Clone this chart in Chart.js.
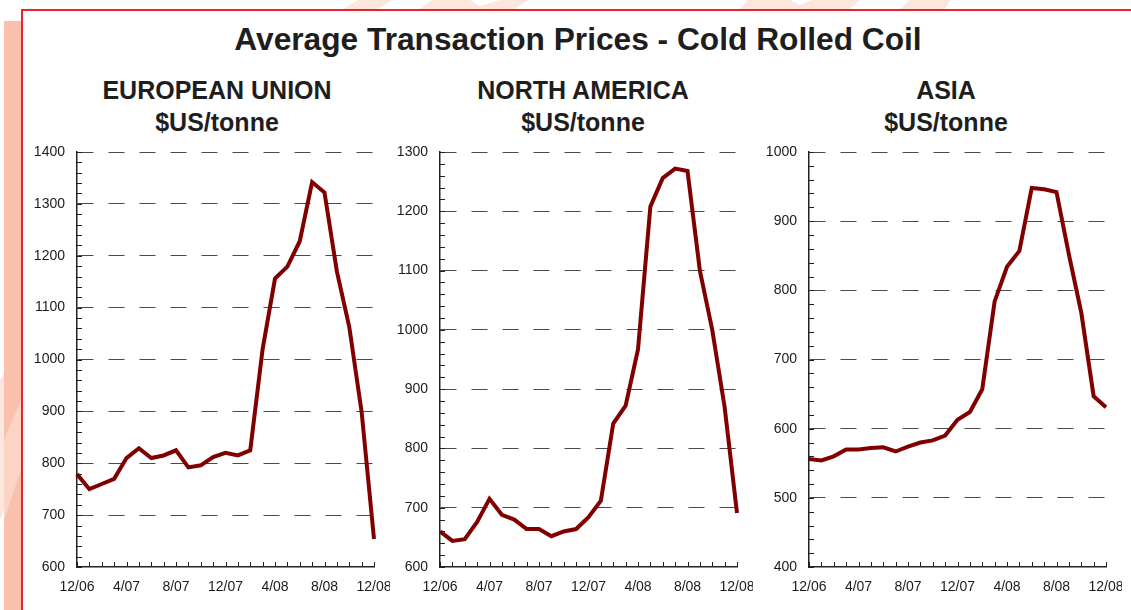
<!DOCTYPE html>
<html>
<head>
<meta charset="utf-8">
<script src="https://cdn.jsdelivr.net/npm/chart.js@4.4.1/dist/chart.umd.min.js"></script>
<style>
  html, body { margin: 0; padding: 0; background: #ffffff; }
  body { width: 1131px; height: 610px; position: relative; overflow: hidden; font-family: "Liberation Sans", Arial, sans-serif; }
  .stripe { position: absolute; left: 4px; top: 21px; width: 17px; height: 600px; background: #F9C1AC; }
  .frame { position: absolute; left: 21px; top: 9px; width: 1200px; height: 700px; border: 2px solid #EE2030; box-sizing: border-box; }
  .wm { position: absolute; left: 0; top: 0; }
  .title { position: absolute; left: 0; width: 1156px; top: 24px; text-align: center; font-weight: bold; font-size: 31.7px; line-height: 31px; color: #1e1e1e; white-space: nowrap; }
  .sub { position: absolute; top: 74px; width: 400px; text-align: center; font-weight: bold; font-size: 25px; line-height: 32px; color: #1e1e1e; white-space: nowrap; }
  canvas { position: absolute; top: 130px; }
</style>
</head>
<body>
<svg class="wm" width="1131" height="610">
  <polygon points="343,9 358,0 392,0 377,9" fill="#FDE6DC"/>
  <polygon points="420,9 432,0 470,0 480,6 500,0 528,0 515,9" fill="#FDE6DC"/>
  <polygon points="740,9 748,0 790,0 800,5 812,0 860,0 850,9" fill="#FDE6DC"/>
  <polygon points="900,9 910,0 950,0 945,9" fill="#FDE6DC"/>
  <polygon points="0,380 21,345 21,470 0,520" fill="#FCE6DE"/>
</svg>
<div class="stripe"></div>
<svg class="wm" width="1131" height="610">
  <polygon points="4,440 21,400 21,470 4,520" fill="#FCDCD0" opacity="0.7"/>
</svg>
<div class="frame"></div>
<div class="title">Average Transaction Prices - Cold Rolled Coil</div>
<div class="sub" style="left:17px">EUROPEAN UNION<br>$US/tonne</div>
<div class="sub" style="left:383px">NORTH AMERICA<br>$US/tonne</div>
<div class="sub" style="left:746px">ASIA<br>$US/tonne</div>

<canvas id="euChart" width="390" height="480" style="left:0px"></canvas>
<canvas id="naChart" width="390" height="480" style="left:363px"></canvas>
<canvas id="asiaChart" width="390" height="480" style="left:732px"></canvas>

<script>
// ---- Data ----
const months = ['12/06','1/07','2/07','3/07','4/07','5/07','6/07','7/07','8/07','9/07','10/07','11/07',
                '12/07','1/08','2/08','3/08','4/08','5/08','6/08','7/08','8/08','9/08','10/08','11/08','12/08'];
const tickLabels = ['12/06','4/07','8/07','12/07','4/08','8/08','12/08'];

const euPrices   = [779, 750, 760, 770, 810, 829, 810, 815, 825, 792, 796, 812,
                    820, 815, 825, 1020, 1156, 1179, 1228, 1342, 1322, 1170, 1063, 899, 654];
const naPrices   = [660, 644, 647, 676, 715, 688, 680, 664, 664, 652, 660, 664,
                    684, 712, 842, 872, 967, 1208, 1256, 1272, 1268, 1100, 1000, 870, 691];
const asiaPrices = [556, 554, 560, 570, 570, 572, 573, 567, 574, 580, 583, 590,
                    613, 624, 657, 784, 834, 857, 948, 946, 942, 852, 768, 647, 631];

const euRange   = [600, 1400];
const naRange   = [600, 1300];
const asiaRange = [400, 1000];

// ---- Chart construction ----
const innerTicks = {
  id: 'innerTicks',
  afterDraw(chart) {
    const ctx = chart.ctx;
    const xs = chart.scales.x, ys = chart.scales.y;
    const a = chart.chartArea;
    ctx.save();
    ctx.strokeStyle = '#222';
    ctx.lineWidth = 1;
    ctx.beginPath();
    for (let v = ys.min; v <= ys.max; v += 20) {
      const y = Math.round(ys.getPixelForValue(v)) + 0.5;
      ctx.moveTo(a.left, y); ctx.lineTo(a.left + 5, y);
    }
    for (let i = 0; i < months.length; i++) {
      const x = Math.round(xs.getPixelForValue(i)) + 0.5;
      ctx.moveTo(x, a.bottom); ctx.lineTo(x, a.bottom - 5);
    }
    ctx.stroke();
    ctx.restore();
  }
};

function makeChart(id, values, range) {
  const font = { family: '"Liberation Sans", Arial, sans-serif', size: 14 };
  return new Chart(document.getElementById(id), {
    type: 'line',
    data: {
      labels: months,
      datasets: [{
        data: values,
        borderColor: '#800000',
        borderWidth: 4,
        pointRadius: 0,
        pointHoverRadius: 0,
        tension: 0,
        fill: false,
        borderJoinStyle: 'miter'
      }]
    },
    options: {
      responsive: false,
      animation: false,
      devicePixelRatio: 1,
      layout: { autoPadding: false, padding: { top: 22, right: 16, bottom: 13, left: 0 } },
      plugins: { legend: { display: false }, tooltip: { enabled: false }, title: { display: false } },
      events: [],
      scales: {
        x: {
          type: 'category',
          offset: false,
          afterFit(s) { s.height = 30; s.paddingLeft = 0; s.paddingRight = 0; },
          grid: { display: false, drawTicks: false },
          border: { display: true, color: '#222', width: 1.5 },
          ticks: {
            autoSkip: false, maxRotation: 0, minRotation: 0, padding: 12,
            color: '#1a1a1a', font,
            callback(val, i) { return tickLabels.includes(months[i]) ? months[i] : ''; }
          }
        },
        y: {
          min: range[0], max: range[1],
          afterFit(s) { s.width = 77; s.paddingTop = 0; s.paddingBottom = 0; },
          grid: {
            drawTicks: false, lineWidth: 1,
            color: (c) => (c.tick && c.tick.value === range[0]) ? 'rgba(0,0,0,0)' : '#4a4a4a'
          },
          border: { display: true, color: '#222', width: 1.5, dash: [16, 15] },
          ticks: { stepSize: 100, padding: 12, color: '#1a1a1a', font,
                   callback(v) { return String(v); } }
        }
      }
    },
    plugins: [innerTicks]
  });
}

makeChart('euChart', euPrices, euRange);
makeChart('naChart', naPrices, naRange);
makeChart('asiaChart', asiaPrices, asiaRange);
</script>
</body>
</html>
